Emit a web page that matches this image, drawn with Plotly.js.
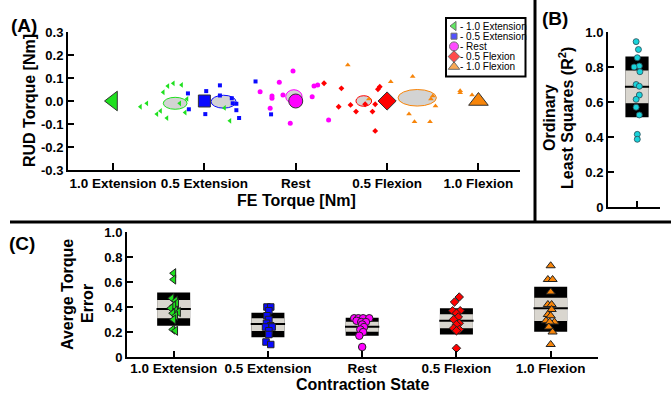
<!DOCTYPE html>
<html><head><meta charset="utf-8">
<script src="https://cdn.plot.ly/plotly-3.0.1.min.js"></script>
<style>html,body{margin:0;padding:0;background:#fff}#chart{width:671px;height:394px}</style>
</head><body><div id="chart"></div>
<script>
// ---------------- DATA ----------------
const states = ['1.0 Extension','0.5 Extension','Rest','0.5 Flexion','1.0 Flexion'];
const legendLabels = ['- 1.0 Extension','- 0.5 Extension','- Rest','- 0.5 Flexion','- 1.0 Flexion'];
const feTickVals = [-2,-1,0,1,2];
const rudTickVals = [-0.3,-0.2,-0.1,0,0.1,0.2,0.3];
const rudTickText = ['-0.3','-0.2','-0.1','0.0','0.1','0.2','0.3'];
const unitTickVals = [0,0.2,0.4,0.6,0.8,1.0];
const unitTickText = ['0','0.2','0.4','0.6','0.8','1.0'];

// Panel A: per-trial torques (FE, RUD) for each contraction state
const ext10FE  = [-1.40,-1.34,-1.25,-1.45,-1.19,-1.27,-1.63,-1.70,-1.48,-1.52,-1.21,-1.41,-0.78,-0.72];
const ext10RUD = [0.065,0.077,0.070,0.038,0.009,-0.010,-0.010,-0.025,-0.043,-0.057,-0.050,-0.074,-0.030,-0.086];
const ext05FE  = [-1.18,-0.98,-0.83,-0.83,-1.17,-0.99,-0.70,-0.69,-0.65,-0.65,-0.62,-0.44,-0.27];
const ext05RUD = [0.033,0.043,0.068,0.024,-0.036,-0.057,0.012,-0.010,-0.012,-0.040,-0.074,0.085,-0.058];
const restFE   = [-0.03,-0.18,-0.39,-0.26,-0.26,-0.14,-0.28,-0.06,0.18,0.20,0.24,0.36];
const restRUD  = [0.130,0.081,0.040,0.022,0.012,0.026,-0.032,-0.097,0.019,0.065,0.070,-0.083];
const flx05FE  = [0.31,0.50,0.47,0.60,0.66,0.76,0.84,0.87,0.90,0.92,0.87];
const flx05RUD = [0.077,0.055,-0.025,-0.017,-0.046,-0.014,-0.046,-0.014,0.051,0.062,-0.130];
const flx10FE  = [0.57,1.04,1.28,0.80,1.24,1.30,1.47,1.53,1.48,1.50,1.80,1.80,1.93];
const flx10RUD = [0.157,0.084,0.106,0.009,-0.057,-0.090,-0.090,-0.022,0.009,0.022,0.045,0.036,0.026];
// target torques (large markers)
const targetFE  = [-2,-1,0,1,2];
const targetRUD = [0,0,0,0,0];
// ellipse summaries (centre and semi-axes) of each cloud
const ellCX = [-1.32,-0.79,-0.02,0.745,1.33];
const ellCY = [-0.010,-0.003,0.019,0.000,0.014];
const ellRX = [0.13,0.137,0.09,0.086,0.21];
const ellRY = [0.026,0.028,0.030,0.023,0.036];

// Panel B: R^2 values
const r2Vals   = [0.945,0.900,0.853,0.806,0.800,0.773,0.700,0.690,0.640,0.615,0.570,0.526,0.415,0.387];
const r2Jitter = [-0.03,0.05,0.01,0.08,-0.10,0.10,-0.03,0.08,0.08,-0.03,-0.03,0.08,0.01,0.01];
const r2Box = {low:0.513, q1:0.593, med:0.687, q3:0.78, high:0.86};

// Panel C: average torque error
const errVals = [
  [0.67,0.62,0.47,0.45,0.43,0.41,0.39,0.37,0.36,0.35,0.33,0.30,0.22,0.21],
  [0.40,0.40,0.37,0.33,0.30,0.27,0.25,0.24,0.24,0.21,0.18,0.12,0.10],
  [0.31,0.31,0.31,0.31,0.29,0.28,0.28,0.26,0.24,0.22,0.20,0.17,0.08],
  [0.48,0.44,0.37,0.37,0.35,0.32,0.30,0.27,0.26,0.23,0.22,0.21,0.07],
  [0.73,0.62,0.62,0.52,0.42,0.42,0.38,0.34,0.33,0.29,0.28,0.28,0.24,0.20,0.10]
];
const errJitter = [
  [0.00,0.00,-0.02,0.02,0.03,0.00,-0.03,0.02,0.05,-0.01,0.02,0.00,-0.01,0.02],
  [-0.01,0.03,0.01,-0.01,0.01,-0.015,0.03,-0.025,0.045,0.01,0.01,-0.02,0.03],
  [-0.085,-0.04,0.01,0.075,-0.06,-0.01,0.04,0.00,0.02,-0.02,0.01,-0.03,0.00],
  [0.03,-0.02,-0.04,0.04,0.00,0.02,-0.03,0.03,0.00,-0.03,0.03,0.00,0.00],
  [0.00,-0.03,0.02,0.00,-0.03,0.01,0.01,-0.03,0.00,-0.05,0.04,-0.01,-0.02,0.02,0.00]
];
const errLow  = [0.250,0.158,0.170,0.180,0.203];
const errQ1   = [0.310,0.208,0.203,0.230,0.288];
const errMed  = [0.384,0.264,0.243,0.290,0.390];
const errQ3   = [0.456,0.310,0.283,0.342,0.475];
const errHigh = [0.517,0.355,0.315,0.390,0.563];

// ---------------- STYLE ----------------
const W = 671, H = 394;
const PX = x => x / W, PY = y => 1 - y / H;
const FONT = 'Arial, "Liberation Sans", sans-serif';
const colors  = ['#1fe01f','#0a0aff','#ff00ff','#ff0000','#f7850a'];
const symbols = ['triangle-left','square','circle','diamond','triangle-up'];
const smallSize = [5,4,5,4.5,5];
const bigSize   = [17,12,14,14,17];
const cSize     = [8,6.5,7.5,6.5,8];
const legSize   = [8,6,9,9,10];
const boxGray = '#d9d6cf';

const aFE  = [ext10FE, ext05FE, restFE, flx05FE, flx10FE];
const aRUD = [ext10RUD, ext05RUD, restRUD, flx05RUD, flx10RUD];

const traces = [];
// Panel A
for (let i = 0; i < 5; i++) {
  traces.push({x:aFE[i], y:aRUD[i], xaxis:'x', yaxis:'y', type:'scatter', mode:'markers', hoverinfo:'skip',
    marker:{symbol:symbols[i], size:smallSize[i], color:colors[i], line:{width:0}}});
}
for (let i = 0; i < 5; i++) {
  traces.push({x:[targetFE[i]], y:[targetRUD[i]], xaxis:'x', yaxis:'y', type:'scatter', mode:'markers', hoverinfo:'skip',
    marker:{symbol:symbols[i], size:bigSize[i], color:colors[i], line:{color:'#333', width:1}}});
}
// Panel B
traces.push({x:r2Jitter, y:r2Vals, xaxis:'x2', yaxis:'y2', type:'scatter', mode:'markers', hoverinfo:'skip',
  marker:{symbol:'circle', size:6, color:'#19d3da', line:{color:'#2a4a55', width:0.8}}});
// Panel C
for (let i = 0; i < 5; i++) {
  traces.push({x:errJitter[i].map(j => i + j), y:errVals[i], xaxis:'x3', yaxis:'y3', type:'scatter', mode:'markers', hoverinfo:'skip',
    marker:{symbol:symbols[i], size:cSize[i], color:colors[i], line:{color:'#222', width:1}}});
}
// custom legend markers
const legX = 454, legTop = 26, legStep = 10.2;
traces.push({x:states.map(() => legX), y:states.map((s, i) => legTop + i * legStep), xaxis:'x4', yaxis:'y4',
  type:'scatter', mode:'markers', hoverinfo:'skip',
  marker:{symbol:symbols, size:legSize, color:colors, line:{color:'#333', width:1}}});

// ---------------- SHAPES ----------------
const shapes = [];
for (let i = 0; i < 5; i++) {
  shapes.push({type:'circle', xref:'x', yref:'y', layer:'below',
    x0:ellCX[i]-ellRX[i], x1:ellCX[i]+ellRX[i], y0:ellCY[i]-ellRY[i], y1:ellCY[i]+ellRY[i],
    fillcolor:'#d3d3d3', line:{color:colors[i], width:1}});
}
function boxShapes(xref, yref, c, hw, lo, q1, md, q3, hi) {
  return [
    {type:'rect', xref, yref, layer:'below', x0:c-hw, x1:c+hw, y0:lo, y1:hi, fillcolor:'#000', line:{width:0}},
    {type:'rect', xref, yref, layer:'below', x0:c-hw, x1:c+hw, y0:q1, y1:q3, fillcolor:boxGray, line:{width:0}},
    {type:'line', xref, yref, layer:'below', x0:c-hw*1.04, x1:c+hw*1.04, y0:md, y1:md, line:{color:'#000', width:2}}
  ];
}
shapes.push(...boxShapes('x2','y2',0,0.4,r2Box.low,r2Box.q1,r2Box.med,r2Box.q3,r2Box.high));
for (let i = 0; i < 5; i++) shapes.push(...boxShapes('x3','y3',i,0.175,errLow[i],errQ1[i],errMed[i],errQ3[i],errHigh[i]));
// separators
shapes.push({type:'line', xref:'paper', yref:'paper', x0:PX(10), x1:1, y0:PY(222), y1:PY(222), line:{color:'#000', width:3}});
shapes.push({type:'line', xref:'paper', yref:'paper', x0:PX(535), x1:PX(535), y0:PY(222), y1:1, line:{color:'#000', width:3}});
// legend box
shapes.push({type:'rect', xref:'paper', yref:'paper', x0:PX(446), x1:PX(525.5), y0:PY(76.5), y1:PY(18), line:{color:'#000', width:2}, fillcolor:'rgba(0,0,0,0)'});

// ---------------- ANNOTATIONS ----------------
const bold = (s) => ({family:FONT, size:s, color:'#000', weight:700});
const ann = [];
const note = (text, x, y, size, angle) => ann.push({text, xref:'paper', yref:'paper', x:PX(x), y:PY(y), xanchor:'center', yanchor:'middle', showarrow:false, font:bold(size), textangle:angle||0});
note('(A)', 24, 25, 19);
note('(B)', 555, 19, 19);
note('(C)', 22, 243, 19);
note('RUD Torque [Nm]', 30, 101, 16, -90);
note('FE Torque [Nm]', 296, 200, 16);
note('Ordinary', 549, 118, 16, -90);
note('Least Squares (R<sup>2</sup>)', 566, 118, 16, -90);
note('Averge Torque', 67, 295, 16, -90);
note('Error', 87, 304, 16, -90);
note('Contraction State', 362, 384, 16);
legendLabels.forEach((t, i) => ann.push({text:t, xref:'x4', yref:'y4', x:legX + 4, y:legTop + i * legStep, xanchor:'left', yanchor:'middle',
  showarrow:false, font:{family:FONT, size:10, color:'#000'}}));

// ---------------- AXES ----------------
const axBase = {showline:true, linecolor:'#000', linewidth:2, ticks:'inside', tickcolor:'#000', tickwidth:2, ticklen:6,
  showgrid:false, zeroline:false, fixedrange:true, tickfont:bold(13)};
const layout = {
  width:W, height:H, margin:{l:0, r:0, t:0, b:0}, paper_bgcolor:'#fff', plot_bgcolor:'rgba(0,0,0,0)',
  showlegend:false, font:{family:FONT},
  xaxis: Object.assign({}, axBase, {domain:[PX(68), PX(520)], range:[-2.493, 2.455], anchor:'y', tickmode:'array', tickvals:feTickVals, ticktext:states, ticklen:7, tickfont:bold(13.5)}),
  yaxis: Object.assign({}, axBase, {domain:[PY(170), PY(32)], range:[-0.3, 0.3], anchor:'x', tickmode:'array', tickvals:rudTickVals, ticktext:rudTickText}),
  xaxis2: Object.assign({}, axBase, {domain:[PX(608), PX(660)], range:[-1, 0.793], anchor:'y2', tickmode:'array', tickvals:[0], showticklabels:false}),
  yaxis2: Object.assign({}, axBase, {domain:[PY(207), PY(32)], range:[0, 1], anchor:'x2', tickmode:'array', tickvals:unitTickVals, ticktext:unitTickText}),
  xaxis3: Object.assign({}, axBase, {domain:[PX(127), PX(598)], range:[-0.495, 4.502], anchor:'y3', tickmode:'array', tickvals:[0,1,2,3,4], ticktext:states, tickfont:bold(13.5), ticklabelstandoff:-2}),
  yaxis3: Object.assign({}, axBase, {domain:[PY(357), PY(232)], range:[0, 1], anchor:'x3', tickmode:'array', tickvals:unitTickVals, ticktext:unitTickText}),
  xaxis4: {domain:[PX(446), PX(525.5)], range:[446, 525.5], anchor:'y4', visible:false, fixedrange:true},
  yaxis4: {domain:[PY(76.5), PY(18)], range:[76.5, 18], anchor:'x4', visible:false, fixedrange:true},
  shapes, annotations:ann
};
Plotly.newPlot('chart', traces, layout, {staticPlot:true, displayModeBar:false});
</script></body></html>
